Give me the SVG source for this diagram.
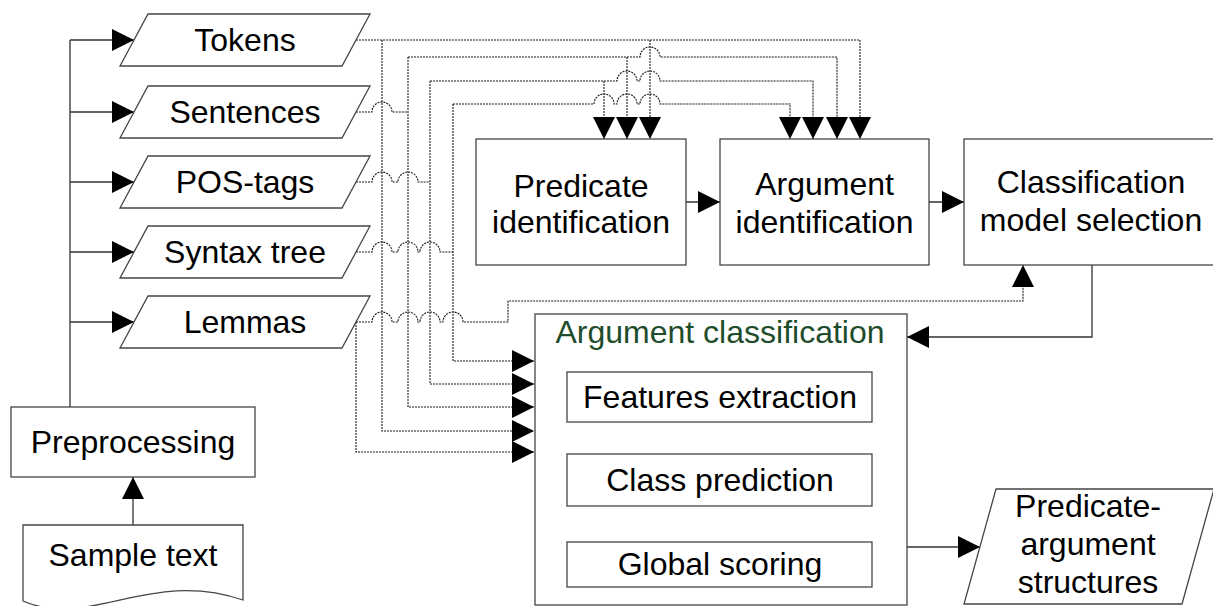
<svg xmlns="http://www.w3.org/2000/svg" width="1213" height="606" viewBox="0 0 1213 606">
<defs>
<style>
.box{fill:#fff;stroke:#454545;stroke-width:1.3}
.t{font-family:"Liberation Sans",Arial,sans-serif;font-size:32px;fill:#000;text-anchor:middle}
.g{fill:#1f4d2c}
.s{fill:none;stroke:#333;stroke-width:1.3}
.d{fill:none;stroke:#1a1a1a;stroke-width:1.1;stroke-dasharray:2 1}
</style>
<marker id="ah" markerUnits="userSpaceOnUse" viewBox="0 0 22 22" markerWidth="22" markerHeight="22" refX="22" refY="11" orient="auto">
<path d="M0,0 L22,11 L0,22 z" fill="#000"/>
</marker>
</defs>
<rect width="1213" height="606" fill="#fff"/>

<g id="connectors">
<path class="s" d="M70,407 V40"/>
<path class="s" d="M70,40 H134" marker-end="url(#ah)"/>
<path class="s" d="M70,112 H134" marker-end="url(#ah)"/>
<path class="s" d="M70,182 H134" marker-end="url(#ah)"/>
<path class="s" d="M70,252 H134" marker-end="url(#ah)"/>
<path class="s" d="M70,322 H134" marker-end="url(#ah)"/>
<path class="s" d="M133,525 V477" marker-end="url(#ah)"/>
<path class="s" d="M686,202 H720" marker-end="url(#ah)"/>
<path class="s" d="M929,202 H964" marker-end="url(#ah)"/>
<path class="s" d="M1092,265 V337 H907" marker-end="url(#ah)"/>
<path class="s" d="M720,422 V454" marker-end="url(#ah)"/>
<path class="s" d="M720,506 V542" marker-end="url(#ah)"/>
<path class="s" d="M907,547 H980" marker-end="url(#ah)"/>

<path class="d" d="M356,40 H860 V139" marker-end="url(#ah)"/>
<path class="d" d="M650,40 V139" marker-end="url(#ah)"/>
<path class="d" d="M382,40 V431 H534" marker-end="url(#ah)"/>

<path class="d" d="M356,112 H372 A10,10 0 0 1 392,112 H408"/>
<path class="d" d="M408,57 V407 H534" marker-end="url(#ah)"/>
<path class="d" d="M408,57 H640 A10,10 0 0 1 660,57 H837 V139" marker-end="url(#ah)"/>
<path class="d" d="M627,57 V139" marker-end="url(#ah)"/>

<path class="d" d="M356,182 H372 A10,10 0 0 1 392,182 H398 A10,10 0 0 1 418,182 H430"/>
<path class="d" d="M430,81 V384 H534" marker-end="url(#ah)"/>
<path class="d" d="M430,81 H617 A10,10 0 0 1 637,81 H640 A10,10 0 0 1 660,81 H813 V139" marker-end="url(#ah)"/>
<path class="d" d="M604,81 V139" marker-end="url(#ah)"/>

<path class="d" d="M356,252 H372 A10,10 0 0 1 392,252 H398 A10,10 0 0 1 418,252 H420 A10,10 0 0 1 440,252 H453"/>
<path class="d" d="M453,104 V361 H534" marker-end="url(#ah)"/>
<path class="d" d="M453,104 H594 A10,10 0 0 1 614,104 H617 A10,10 0 0 1 637,104 H640 A10,10 0 0 1 660,104 H790 V139" marker-end="url(#ah)"/>

<path class="d" d="M356,322 H372 A10,10 0 0 1 392,322 H398 A10,10 0 0 1 418,322 H420 A10,10 0 0 1 440,322 H443 A10,10 0 0 1 463,322 H508 V301 H1023 V265" marker-end="url(#ah)"/>
<path class="d" d="M356,322 V452 H534" marker-end="url(#ah)"/>
</g>

<g id="tokens"><polygon class="box" points="148,14 370,14 342,66 120,66"/><text class="t" x="245" y="51">Tokens</text></g>
<g id="sentences"><polygon class="box" points="148,86 370,86 342,138 120,138"/><text class="t" x="245" y="123">Sentences</text></g>
<g id="pos-tags"><polygon class="box" points="148,156 370,156 342,208 120,208"/><text class="t" x="245" y="193">POS-tags</text></g>
<g id="syntax-tree"><polygon class="box" points="148,226 370,226 342,278 120,278"/><text class="t" x="245" y="263">Syntax tree</text></g>
<g id="lemmas"><polygon class="box" points="148,296 370,296 342,348 120,348"/><text class="t" x="245" y="333">Lemmas</text></g>

<g id="preprocessing"><rect class="box" x="11" y="407" width="244" height="70"/><text class="t" x="133" y="453">Preprocessing</text></g>
<g id="sample-text"><path class="box" d="M23,601 V525 H243 V600 C150,568 90,630 23,601 z"/><text class="t" x="133" y="566">Sample text</text></g>

<g id="predicate-identification"><rect class="box" x="476" y="139" width="210" height="126"/><text class="t" x="581" y="197">Predicate</text><text class="t" x="581" y="233">identification</text></g>
<g id="argument-identification"><rect class="box" x="720" y="139" width="209" height="126"/><text class="t" x="824.5" y="195">Argument</text><text class="t" x="824.5" y="233">identification</text></g>
<g id="classification-model-selection"><rect class="box" x="964" y="139" width="254" height="126"/><text class="t" x="1091" y="193">Classification</text><text class="t" x="1091" y="231">model selection</text></g>

<g id="argument-classification">
<rect class="box" x="535" y="314" width="372" height="291"/>
<text class="t g" x="720" y="343">Argument classification</text>
</g>
<g id="features-extraction"><rect class="box" x="567" y="372" width="305" height="50"/><text class="t" x="720" y="408">Features extraction</text></g>
<g id="class-prediction"><rect class="box" x="567" y="454" width="305" height="52"/><text class="t" x="720" y="491">Class prediction</text></g>
<g id="global-scoring"><rect class="box" x="567" y="542" width="305" height="45"/><text class="t" x="720" y="575">Global scoring</text></g>

<g id="predicate-argument-structures"><polygon class="box" points="996,489 1214,489 1182,604 964,604"/><text class="t" x="1088" y="517">Predicate-</text><text class="t" x="1088" y="555">argument</text><text class="t" x="1088" y="593">structures</text></g>
</svg>
